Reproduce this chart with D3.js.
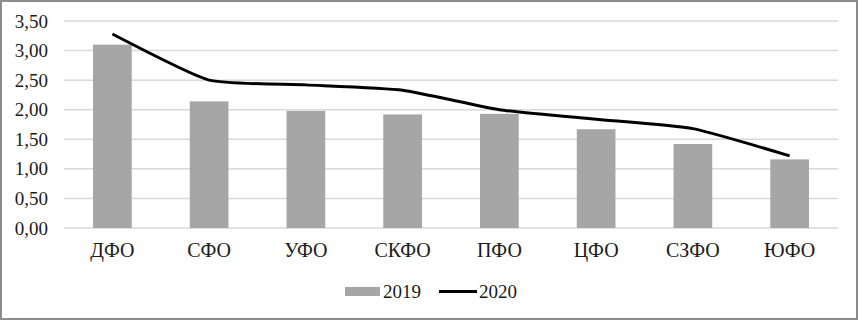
<html>
<head>
    <script src="https://d3js.org/d3.v7.min.js"></script>
    <style type="text/css">
        body { margin: 0; background: #fff; }
        svg { display: block; }
        svg text { font-family: "Liberation Serif", "DejaVu Serif", serif; fill: #1a1a1a; }
        line.grid { stroke: #d9d9d9; stroke-width: 1.5; }
    </style>
</head>
<body>
    <svg></svg>
    <script>
        const regions = ["ДФО", "СФО", "УФО", "СКФО", "ПФО", "ЦФО", "СЗФО", "ЮФО"];
        const values2019 = [3.10, 2.14, 1.98, 1.92, 1.93, 1.67, 1.42, 1.16];
        const values2020 = [3.28, 2.50, 2.42, 2.33, 2.00, 1.84, 1.68, 1.22];
        const yTicks = [0, 0.5, 1, 1.5, 2, 2.5, 3, 3.5];

        const W = 859, H = 321;
        const plotLeft = 64, plotRight = 838, plotTop = 21, plotBottom = 228;

        var svg = d3.select("svg").attr("width", W).attr("height", H);

        svg.append("rect")
            .attr("x", 1).attr("y", 1).attr("width", W - 3).attr("height", H - 3)
            .attr("fill", "#fff").attr("stroke", "#8c8c8c").attr("stroke-width", 2);

        var x = d3.scaleBand().domain(regions).range([plotLeft, plotRight]).paddingInner(0.6).paddingOuter(0.3);
        var y = d3.scaleLinear().domain([0, 3.5]).range([plotBottom, plotTop]);
        var xc = (d) => x(d) + x.bandwidth()/2;

        // gridlines
        svg.selectAll("line.grid")
            .data(yTicks)
            .enter().append("line").classed("grid", true)
                .attr("x1", plotLeft).attr("x2", plotRight)
                .attr("y1", (d) => y(d)).attr("y2", (d) => y(d));

        // y axis labels
        var fmt = (d) => d3.format(".2f")(d).replace(".", ",");
        var yAxis = svg.append("g")
            .attr("transform", "translate(" + 48 + ",0)")
            .call(d3.axisLeft(y).tickValues(yTicks).tickFormat(fmt).tickSize(0).tickPadding(0));
        yAxis.select(".domain").remove();
        yAxis.attr("font-family", null);
        yAxis.selectAll("text").style("font-size", "19px");

        // bars
        svg.selectAll("rect.bar")
            .data(regions)
            .enter().append("rect").classed("bar", true)
                .attr("x", (d) => x(d))
                .attr("width", x.bandwidth())
                .attr("y", (d, i) => y(values2019[i]))
                .attr("height", (d, i) => y(0) - y(values2019[i]))
                .attr("fill", "#a6a6a6");

        // x axis labels
        var xAxis = svg.append("g")
            .attr("transform", "translate(0," + (plotBottom + 15) + ")")
            .call(d3.axisBottom(x).tickSize(0).tickPadding(0));
        xAxis.select(".domain").remove();
        xAxis.attr("font-family", null);
        xAxis.selectAll("text").style("font-size", "20px");

        // 2020 line
        var line = d3.line()
            .x((d, i) => xc(regions[i]))
            .y((d) => y(d))
            .curve(d3.curveCardinal.tension(0.5));

        svg.append("path")
            .datum(values2020)
            .attr("d", line)
            .attr("fill", "none")
            .attr("stroke", "#000")
            .attr("stroke-width", 3);

        // legend
        var legend = svg.append("g").style("font-size", "19px");
        legend.append("rect")
            .attr("x", 345).attr("y", 287).attr("width", 35).attr("height", 9)
            .attr("fill", "#a6a6a6");
        legend.append("text")
            .attr("x", 383).attr("y", 298).text("2019");
        legend.append("line")
            .attr("x1", 439).attr("x2", 477).attr("y1", 291.5).attr("y2", 291.5)
            .attr("stroke", "#000").attr("stroke-width", 3);
        legend.append("text")
            .attr("x", 479).attr("y", 298).text("2020");
    </script>
</body>
</html>
